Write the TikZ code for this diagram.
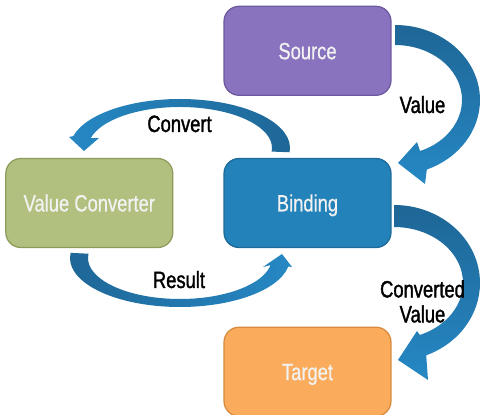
\documentclass[tikz,border=0pt]{standalone}
\usepackage{fontspec}
\setmainfont{Liberation Sans}[FakeStretch=0.78, FakeBold=0.6]
\newfontfamily\lblfont{Liberation Sans}[FakeStretch=0.78, FakeBold=1.4]
\usepackage{tikz}
\usetikzlibrary{positioning, calc}
\definecolor{SrcPurple}{RGB}{138,115,190}
\definecolor{SrcEdge}{RGB}{108,88,158}
\definecolor{BindBlue}{RGB}{35,130,185}
\definecolor{BindEdge}{RGB}{28,106,153}
\definecolor{ConvGreen}{RGB}{177,192,127}
\definecolor{ConvEdge}{RGB}{140,154,90}
\definecolor{TgtOrange}{RGB}{251,171,92}
\definecolor{TgtEdge}{RGB}{215,138,62}
\definecolor{ArrDark}{RGB}{30,102,150}
\definecolor{ArrLight}{RGB}{38,136,196}
\definecolor{BoxText}{RGB}{242,242,242}
\tikzset{
  cbox/.style={rounded corners=0.3cm, line width=0.7pt, minimum width=3.34cm, minimum height=1.78cm,
    inner sep=0pt, text=BoxText, font=\fontsize{13.4}{16}\selectfont, text height=9.6pt, text depth=0pt},
  srcbox/.style={cbox, draw=SrcEdge, fill=SrcPurple},
  bindbox/.style={cbox, draw=BindEdge, fill=BindBlue},
  convbox/.style={cbox, draw=ConvEdge, fill=ConvGreen},
  tgtbox/.style={cbox, draw=TgtEdge, fill=TgtOrange},
  lbl/.style={font=\lblfont\fontsize{13.4}{14.2}\selectfont, text=black, inner sep=0pt, anchor=base},
}

\begin{document}
\begin{tikzpicture}[x=0.02cm, y=-0.02cm]
  \useasboundingbox (0,0) rectangle (481,415);
  % boxes
  \node[bindbox] (binding) at (307.5,203) {Binding};
  \node[srcbox, above=1.24cm of binding] (source) {Source};
  \node[convbox, left=1.0cm of binding] (conv) {Value Converter};
  \node[tgtbox, below=1.57cm of binding] (target) {Target};
  % curved arrows
  \coordinate (valc) at (395,100);
  \coordinate (cvtc) at (180,148);
  \coordinate (resc) at (180,258);
  \coordinate (outc) at (394,283);
  \path[top color=ArrDark, bottom color=ArrLight]
    ($(valc)+(-90:85 and 75)$) arc[start angle=-90, end angle=68, x radius=85, y radius=75]
    -- (425,184) -- (398,163) -- (417,142)
    -- ($(valc)+(68:67 and 55)$) arc[start angle=68, end angle=-90, x radius=67, y radius=55] -- cycle;
  \path[left color=ArrLight, right color=ArrDark]
    ($(cvtc)+(5:110 and 49)$) arc[start angle=5, end angle=-166, x radius=110, y radius=49]
    -- (69,137) -- (84,151) -- (99,138)
    -- ($(cvtc)+(-166:92 and 41)$) arc[start angle=-166, end angle=5, x radius=92, y radius=41] -- cycle;
  \path[left color=ArrDark, right color=ArrLight]
    ($(resc)+(186:110 and 49)$) arc[start angle=186, end angle=10, x radius=110, y radius=49]
    -- (292,267) -- (282,254) -- (263,267)
    -- ($(resc)+(10:92 and 41)$) arc[start angle=10, end angle=186, x radius=92, y radius=41] -- cycle;
  \path[top color=ArrDark, bottom color=ArrLight]
    ($(outc)+(-90:86 and 78)$) arc[start angle=-90, end angle=68, x radius=86, y radius=78]
    -- (428,380) -- (398,360) -- (417,331)
    -- ($(outc)+(68:69 and 56)$) arc[start angle=68, end angle=-90, x radius=69, y radius=56] -- cycle;
  % labels
  \node[lbl] (lconvert) at (179.5,132) {Convert};
  \node[lbl] (lvalue) at (422.5,113) {Value};
  \node[lbl] (lresult) at (179,288) {Result};
  \node[lbl, anchor=north, align=center] (lconverted) at (422.5,280) {Converted\\Value};
\end{tikzpicture}
\end{document}
